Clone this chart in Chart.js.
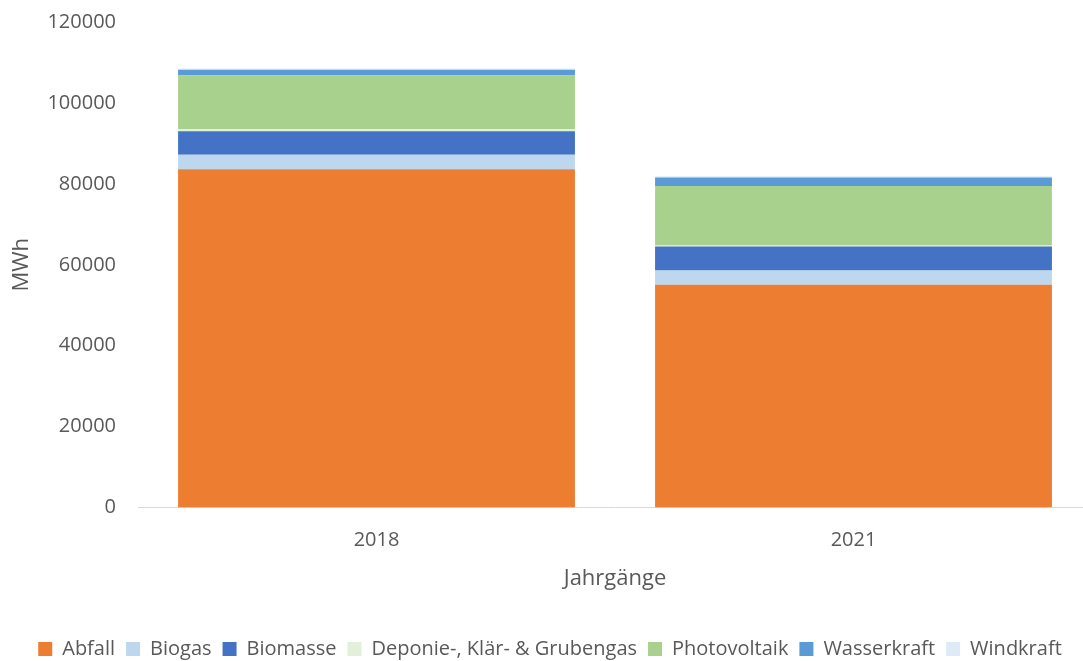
<!DOCTYPE html>
<html>
<head>
<meta charset="utf-8">
<script src="https://cdn.jsdelivr.net/npm/chart.js@4/dist/chart.umd.min.js"></script>
<style>
  html, body { margin: 0; padding: 0; background: #fff; overflow: hidden; }
  #wrap { width: 1100px; height: 661px; }
</style>
</head>
<body>
<div id="wrap"><canvas id="mixChart" width="1100" height="661"></canvas></div>
<script>
// Werte in MWh
const jahrgaenge = ['2018', '2021'];
const abfall = [83600, 55100];
const biogas = [3600, 3500];
const biomasse = [5800, 5900];
const deponieGas = [500, 300];
const photovoltaik = [13300, 14700];
const wasserkraft = [1400, 2100];
const windkraft = [300, 300];
const yTicks = [0, 20000, 40000, 60000, 80000, 100000, 120000];

const textColor = '#595959';
const font = { family: '"Open Sans", sans-serif', size: 20 };

const datasets = [
    { label: 'Abfall', data: abfall, backgroundColor: '#ED7D31' },
    { label: 'Biogas', data: biogas, backgroundColor: '#BDD7EE' },
    { label: 'Biomasse', data: biomasse, backgroundColor: '#4472C4' },
    { label: 'Deponie-, Klär- & Grubengas', data: deponieGas, backgroundColor: '#E2F0D9' },
    { label: 'Photovoltaik', data: photovoltaik, backgroundColor: '#A9D18E' },
    { label: 'Wasserkraft', data: wasserkraft, backgroundColor: '#5B9BD5' },
    { label: 'Windkraft', data: windkraft, backgroundColor: '#DEEBF7' }
].map(ds => ({ ...ds, borderWidth: 0, categoryPercentage: 1, barPercentage: 0.832 }));

const ctx = document.getElementById('mixChart').getContext('2d');
new Chart(ctx, {
    type: 'bar',
    data: { labels: jahrgaenge, datasets },
    options: {
        responsive: false,
        animation: false,
        layout: { padding: { top: 0, left: 8, right: 8, bottom: -8 } },
        scales: {
            x: {
                stacked: true,
                grid: { display: false, drawTicks: false },
                border: { display: true, color: '#D9D9D9', width: 1 },
                ticks: { color: textColor, font, padding: 21 },
                title: { display: true, text: 'Jahrgänge', color: textColor, font: { ...font, size: 22 }, padding: { top: -8, bottom: 36 } }
            },
            y: {
                stacked: true,
                min: 0,
                max: 120000,
                afterBuildTicks: scale => { scale.ticks = yTicks.map(v => ({ value: v })); },
                // Platz oberhalb des Plotbereichs nicht vom Tick-Abstand abhängig machen
                afterFit: scale => { scale.paddingTop = 22; scale.paddingBottom = 12; },
                grid: { display: false, drawTicks: false },
                border: { display: false },
                ticks: { color: textColor, font, padding: 22, callback: v => String(v) },
                title: { display: true, text: 'MWh', color: textColor, font: { ...font, size: 22 }, padding: { top: 1, bottom: -10 } }
            }
        },
        plugins: {
            legend: {
                position: 'bottom',
                labels: { color: textColor, font, boxWidth: 14, boxHeight: 14, padding: 11 }
            },
            tooltip: { enabled: false }
        }
    }
});
</script>
</body>
</html>
